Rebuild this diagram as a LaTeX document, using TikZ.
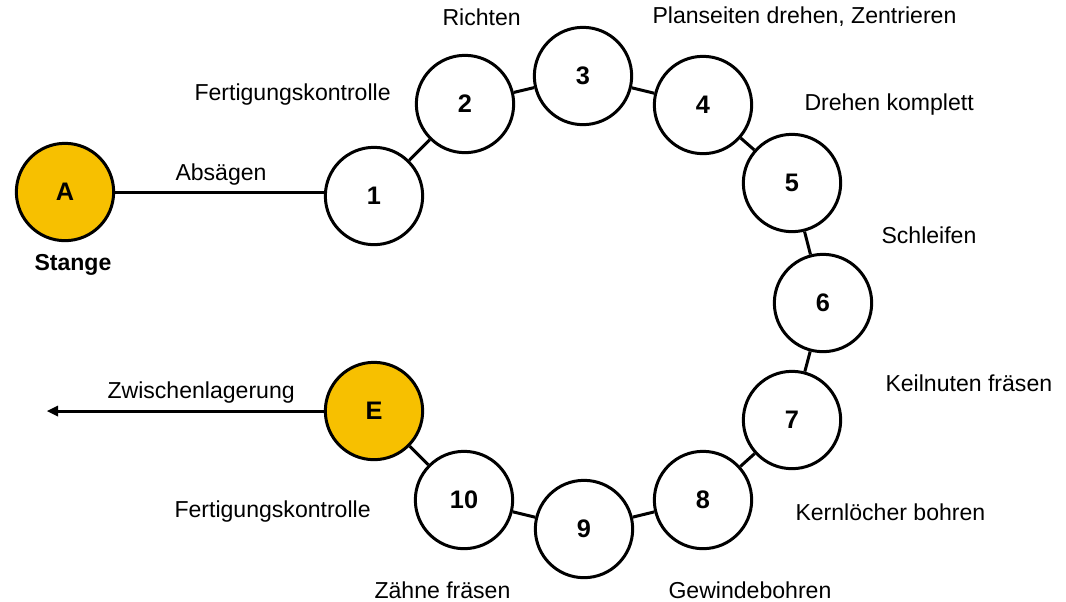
\documentclass[tikz,border=0pt]{standalone}
\usepackage{fontspec}
\setmainfont{Liberation Sans}
\definecolor{gelb}{RGB}{247,192,0}

\tikzset{every picture/.style={line width=2.25pt},
  station/.style={circle, draw, fill=white, minimum size=73pt, inner sep=0pt, font=\fontsize{19}{21}\selectfont\bfseries},
  schritt/.style={anchor=west, inner sep=0.75pt, font=\fontsize{17.3}{20}\selectfont}}

\begin{document}
\begin{tikzpicture}[x=0.75pt,y=0.75pt,yscale=-1,xscale=1]
\useasboundingbox (0,0) rectangle (1066,601);

%Shape: Circle
\draw (65,192) node [station, fill=gelb] (A) {A};
\draw (374,196) node [station] (n1) {1};
\draw (465,104) node [station] (n2) {2};
\draw (583,76) node [station] (n3) {3};
\draw (703,105) node [station] (n4) {4};
\draw (792,183) node [station] (n5) {5};
\draw (823,303) node [station] (n6) {6};
\draw (792,420) node [station] (n7) {7};
\draw (703,500) node [station] (n8) {8};
\draw (584,529) node [station] (n9) {9};
\draw (464,500) node [station] (n10) {10};
\draw (374,411) node [station, fill=gelb] (E) {E};
\coordinate (zw) at (53,411);

%Straight Lines
\draw (A.east) -- (A.east -| n1.west);
\foreach \a/\b in {n1/n2,n2/n3,n3/n4,n4/n5,n5/n6,n6/n7,n7/n8,n8/n9,n9/n10,n10/E}
  \draw (\a) -- (\b);
\draw (E.west) -- (zw);
\draw [shift={(zw)}] [fill=black][line width=0.08][draw opacity=0] (5,-5.5) -- (-6,0) -- (5,5.5) -- cycle;

% Text Node
\draw (32,265) node [schritt, font=\fontsize{17.3}{20}\selectfont\bfseries] (stange) {Stange};
\draw (173,175) node [schritt] (t0) {Absägen};
\draw (192,95) node [schritt] (t1) {Fertigungskontrolle};
\draw (440,17) node [schritt] (t2) {Richten};
\draw (650,17) node [schritt] (t3) {Planseiten drehen, Zentrieren};
\draw (802,105) node [schritt] (t4) {Drehen komplett};
\draw (879,235) node [schritt] (t5) {Schleifen};
\draw (883,383) node [schritt] (t6) {Keilnuten fräsen};
\draw (793,512) node [schritt] (t7) {Kernlöcher bohren};
\draw (666,590) node [schritt] (t8) {Gewindebohren};
\draw (372,590) node [schritt] (t9) {Zähne fräsen};
\draw (172,512) node [schritt] (t10) {Fertigungskontrolle};
\draw (105,393) node [schritt] (tE) {Zwischenlagerung};

\end{tikzpicture}
\end{document}
